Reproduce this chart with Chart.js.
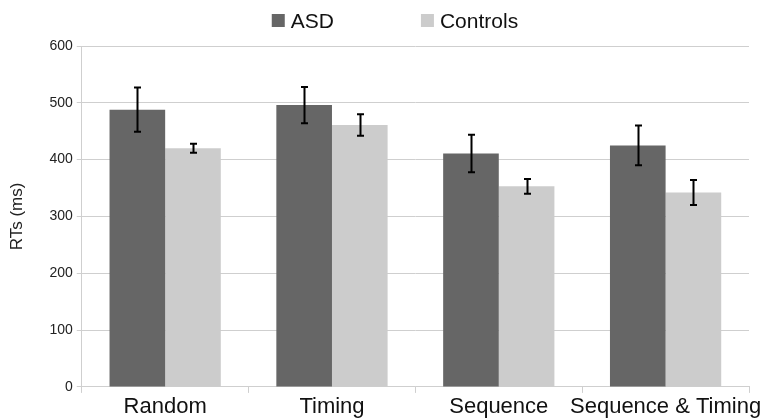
<!DOCTYPE html>
<html>
<head>
<meta charset="utf-8">
<script src="https://cdn.jsdelivr.net/npm/chart.js@4/dist/chart.umd.min.js"></script>
<style>
  html, body { margin: 0; padding: 0; background: #ffffff; }
  #wrap { width: 762px; height: 420px; position: relative; }
</style>
</head>
<body>
<div id="wrap"><canvas id="c" width="762" height="420"></canvas></div>
<script>
const categories = ["Random", "Timing", "Sequence", "Sequence & Timing"];
const asdValues = [488, 496, 411, 425];
const asdErrors = [39, 32, 33, 35];
const controlValues = [420, 461, 353, 342];
const controlErrors = [8, 19, 13, 22];
const yTicks = [0, 100, 200, 300, 400, 500, 600];
const seriesNames = ["ASD", "Controls"];
const seriesColors = ["#666666", "#cccccc"];

const gridGray = "#cfcfcf";
const FONT = "'Liberation Sans', Arial, sans-serif";

const errorBarPlugin = {
  id: "errorBars",
  afterDatasetsDraw(chart) {
    const ctx = chart.ctx;
    const yScale = chart.scales.y;
    chart.data.datasets.forEach((ds, di) => {
      const meta = chart.getDatasetMeta(di);
      if (meta.hidden) return;
      meta.data.forEach((bar, i) => {
        const v = ds.data[i], e = ds.errors[i];
        const top = yScale.getPixelForValue(v + e);
        const bot = yScale.getPixelForValue(v - e);
        const x = Math.round(bar.x) + 0.5;
        ctx.save();
        ctx.strokeStyle = "#000000";
        ctx.lineWidth = 2;
        ctx.beginPath();
        ctx.moveTo(x, top); ctx.lineTo(x, bot);
        ctx.moveTo(x - 3.5, top); ctx.lineTo(x + 3.5, top);
        ctx.moveTo(x - 3.5, bot); ctx.lineTo(x + 3.5, bot);
        ctx.stroke();
        ctx.restore();
      });
    });
  }
};

const customLegend = {
  id: "customLegend",
  afterDraw(chart) {
    const ctx = chart.ctx;
    const area = chart.chartArea;
    ctx.save();
    ctx.font = "21px " + FONT;
    ctx.textBaseline = "middle";
    ctx.textAlign = "left";
    let x = area.left + 190;
    const yMid = 21;
    chart.data.datasets.forEach((ds, i) => {
      ctx.fillStyle = ds.backgroundColor;
      ctx.fillRect(x, yMid - 7, 13, 13);
      ctx.fillStyle = "#111111";
      ctx.fillText(ds.label, x + 19, yMid + 1);
      x += 19 + ctx.measureText(ds.label).width + 87;
    });
    ctx.restore();
  }
};

new Chart(document.getElementById("c"), {
  type: "bar",
  data: {
    labels: categories,
    datasets: [
      { label: seriesNames[0], data: asdValues, errors: asdErrors, backgroundColor: seriesColors[0] },
      { label: seriesNames[1], data: controlValues, errors: controlErrors, backgroundColor: seriesColors[1] }
    ]
  },
  options: {
    responsive: false,
    animation: false,
    devicePixelRatio: 1,
    layout: { padding: { top: 46, right: 13, left: 7, bottom: 0 } },
    datasets: { bar: { categoryPercentage: 0.667, barPercentage: 1.0 } },
    plugins: {
      legend: { display: false },
      tooltip: { enabled: false }
    },
    scales: {
      x: {
        offset: true,
        afterFit: (s) => { s.paddingRight = 0; s.paddingLeft = 0; },
        grid: {
          offset: true,
          drawOnChartArea: true,
          color: (c) => (c.index === 0 || c.index === categories.length) ? gridGray : "rgba(0,0,0,0)",
          tickColor: gridGray,
          tickLength: 6,
          lineWidth: 1
        },
        border: { display: true, color: gridGray },
        ticks: { color: "#111111", font: { family: FONT, size: 22, lineHeight: 1.05 }, padding: 2, maxRotation: 0, autoSkip: false }
      },
      y: {
        min: 0,
        max: 600,
        afterBuildTicks: (axis) => { axis.ticks = yTicks.map(v => ({ value: v })); },
        grid: { color: gridGray, tickColor: gridGray, tickLength: 5, lineWidth: 1 },
        border: { display: true, color: gridGray },
        ticks: { color: "#222222", font: { family: FONT, size: 14 }, padding: 4 },
        title: { display: true, text: "RTs (ms)", color: "#222222", font: { family: FONT, size: 17 }, padding: { top: 0, bottom: 18 } }
      }
    }
  },
  plugins: [errorBarPlugin, customLegend]
});
</script>
</body>
</html>
